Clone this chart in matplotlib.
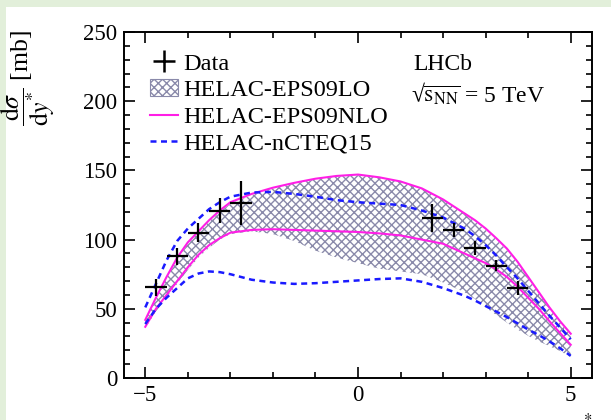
import numpy as np
import matplotlib
matplotlib.use("Agg")
import matplotlib.pyplot as plt
from matplotlib.patches import Rectangle, Patch
from matplotlib.lines import Line2D
from matplotlib.ticker import MultipleLocator

plt.rcParams["font.family"] = ["Liberation Serif", "DejaVu Serif"]
plt.rcParams["mathtext.fontset"] = "stix"
plt.rcParams["hatch.linewidth"] = 1.0

# LHCb measurement, backward and forward rapidity bins
data_y = [-4.75, -4.25, -3.75, -3.25, -2.75, 1.75, 2.25, 2.75, 3.25, 3.75]
data_xs = [65.5, 88, 105, 121, 126.5, 115.5, 107, 94, 81, 65]
data_err = [6, 6, 7, 9, 16, 10, 5, 5, 4, 5]
bin_half = [0.25] * 10

# theory curves on a common rapidity grid
grid = [-5, -4.75, -4.5, -4.25, -4, -3.75, -3.5, -3.25, -3, -2.5, -2, -1.5,
        -1, -0.5, 0, 0.5, 1, 1.5, 2, 2.5, 2.75, 3, 3.25, 3.5, 3.75, 4, 4.25,
        4.5, 4.75, 5]
lo_high = [41, 57, 72, 86, 97, 105, 113, 120, 126, 132, 137, 140.5,
           143.5, 145.5, 146.5, 144.5, 141.5, 136.5, 128.5, 118.5, 113, 107,
           100, 92.5, 83, 72, 61, 50, 40, 31]
lo_low = [36, 48, 58, 68, 78, 87, 94, 100, 104, 106, 104, 99,
          92, 87, 83, 79, 77, 75, 69, 62, 57, 51, 45.5, 40, 35, 30.5, 26.5,
          23, 19.5, 15]
nlo_high = [42, 58, 73, 87, 98, 106, 114, 121, 127, 133, 137.5, 141,
            144, 146, 147, 145, 142, 137, 129, 119, 114, 108, 101, 93.5, 84,
            73, 62, 51, 41, 32]
nlo_low = [37, 50, 60, 70, 80, 89, 96, 101, 105, 107, 107.5, 107,
           106.5, 106, 105.5, 104.5, 103, 100, 97, 90, 86.5, 83, 78.5, 73,
           66, 58, 50, 41, 32.5, 24]
ncteq_high = [51, 68, 85, 99, 108, 115, 122, 127, 131, 134, 134.5, 133,
              131, 128.5, 127, 126, 125, 121, 116, 108, 102.5, 96, 88.5, 80,
              72, 63, 54, 45, 36.5, 28]
ncteq_low = [39, 50, 58, 65, 72, 75.5, 77, 76.5, 75, 71, 69, 68,
             68.5, 69.5, 70.5, 71.5, 72, 69.5, 65, 59.5, 56, 52, 48, 44,
             39.5, 35, 31, 26.5, 21.5, 16]

hatch_col = "#8a8aaa"
mag = "#ff1ee6"
blue = "#1a1aff"
dash = (0, (2.4, 1.8))

fig = plt.figure(figsize=(6.11, 4.2), dpi=100, facecolor="#e2efda")
fig.add_artist(Rectangle((6 / 611, 0), 1, 1 - 7 / 420, transform=fig.transFigure,
                         facecolor="white", edgecolor="none", zorder=-10))

ax = fig.add_axes([124 / 611, 1 - 378 / 420, (592 - 124) / 611, (378 - 32) / 420])
ax.set_facecolor("white")

ax.fill_between(grid, lo_low, lo_high, facecolor="none", edgecolor=hatch_col,
                hatch="xxxx", linewidth=0, zorder=1)
ax.plot(grid, nlo_high, color=mag, lw=1.5, zorder=2)
ax.plot(grid, nlo_low, color=mag, lw=1.5, zorder=2)
ax.plot(grid, ncteq_high, color=blue, lw=1.8, ls=dash, zorder=3)
ax.plot(grid, ncteq_low, color=blue, lw=1.8, ls=dash, zorder=3)
ax.errorbar(data_y, data_xs, xerr=bin_half, yerr=data_err, fmt="none",
            ecolor="black", elinewidth=1.6, capsize=0, zorder=4)

ax.set_xlim(-5.5, 5.5)
ax.set_ylim(0, 250)
ax.xaxis.set_major_locator(MultipleLocator(5))
ax.xaxis.set_minor_locator(MultipleLocator(1))
ax.yaxis.set_major_locator(MultipleLocator(50))
ax.yaxis.set_minor_locator(MultipleLocator(10))
ax.tick_params(which="both", direction="in", top=True, right=True, width=1.2,
               labelsize=16.5, pad=5)
ax.tick_params(which="major", length=8)
ax.tick_params(which="minor", length=4.3)
for s in ax.spines.values():
    s.set_linewidth(1.4)

handles = [
    Line2D([], [], color="black", marker="+", markersize=16, mew=1.8, ls="none"),
    Patch(facecolor="none", edgecolor=hatch_col, hatch="xxxx", linewidth=0.8),
    Line2D([], [], color=mag, lw=1.5),
    Line2D([], [], color=blue, lw=1.8, ls=dash),
]
labels = ["Data", "HELAC-EPS09LO", "HELAC-EPS09NLO", "HELAC-nCTEQ15"]
ax.legend(handles, labels, loc="upper left", bbox_to_anchor=(0.055, 0.94),
          frameon=False, fontsize=17.5, handlelength=1.15, handletextpad=0.25,
          labelspacing=0.19, borderpad=0, borderaxespad=0)

fig.text(413 / 611, 1 - 64 / 420, "LHCb", fontsize=17, ha="left", va="center")
fig.text(411 / 611, 1 - 94 / 420,
         "\u221a" + r"$\overline{\mathrm{s}_{\mathrm{NN}}}$" + " = 5 TeV",
         fontsize=17, ha="left", va="center")

fig.text(28 / 611, 1 - 78 / 420, r"$\dfrac{\mathrm{d}\sigma}{\mathrm{d}y^{*}}$ [mb]",
         rotation=90, fontsize=18.5, ha="center", va="center")
fig.text(593 / 611, 1 - 411 / 420, r"$y^{*}$", fontsize=17, ha="right", va="top")

fig.savefig("out.png", dpi=100, facecolor=fig.get_facecolor())
